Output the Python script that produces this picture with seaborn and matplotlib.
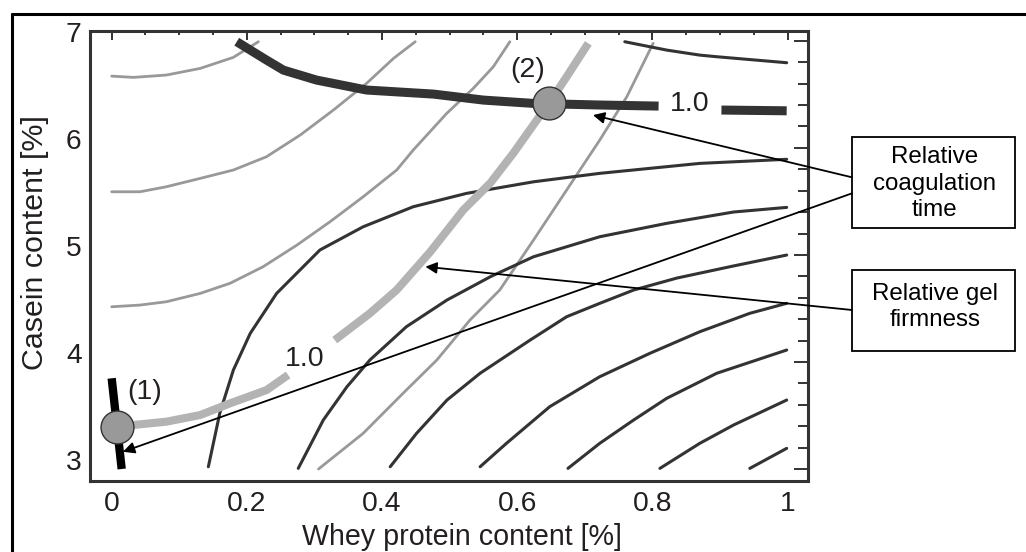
import numpy as np
import matplotlib
matplotlib.use("Agg")
import matplotlib.pyplot as plt
import seaborn as sns
from matplotlib.patches import Rectangle
from matplotlib.lines import Line2D
from matplotlib.ticker import MultipleLocator, FixedLocator, FixedFormatter
from matplotlib.transforms import ScaledTranslation

# ---------------- data: (whey protein %, casein %) ----------------
# relative gel firmness contours (thin light gray)
gel_c1_x = [0.0, 0.032, 0.081, 0.131, 0.180, 0.217]
gel_c1_y = [6.670, 6.658, 6.680, 6.742, 6.845, 6.991]
gel_c2_x = [0.0, 0.042, 0.081, 0.131, 0.180, 0.229, 0.279, 0.328, 0.377, 0.417, 0.449]
gel_c2_y = [5.590, 5.590, 5.637, 5.715, 5.793, 5.917, 6.120, 6.353, 6.602, 6.836, 6.991]
gel_c3_x = [0.0, 0.042, 0.081, 0.131, 0.175, 0.224, 0.274, 0.323, 0.372, 0.4216, 0.446, 0.4956, 0.535, 0.5645, 0.589]
gel_c3_y = [4.516, 4.532, 4.563, 4.641, 4.735, 4.890, 5.092, 5.310, 5.543, 5.793, 5.979, 6.322, 6.556, 6.757, 6.991]
gel_c4_x = [0.306, 0.372, 0.431, 0.481, 0.530, 0.574, 0.624, 0.673, 0.722, 0.762, 0.801]
gel_c4_y = [3.001, 3.334, 3.708, 4.019, 4.392, 4.672, 5.139, 5.606, 6.073, 6.477, 6.976]
# relative gel firmness = 1.0 (thick light gray, split around its label)
gel_one_a_x = [0.0074, 0.032, 0.081, 0.131, 0.175, 0.229, 0.261]
gel_one_a_y = [3.396, 3.412, 3.443, 3.505, 3.614, 3.738, 3.879]
gel_one_b_x = [0.330, 0.382, 0.4216, 0.471, 0.520, 0.560, 0.594, 0.629, 0.647, 0.673, 0.705]
gel_one_b_y = [4.205, 4.455, 4.673, 5.027, 5.419, 5.671, 5.949, 6.260, 6.415, 6.664, 6.976]

# relative coagulation time contours (thin dark)
coag_c0_x = [0.759, 0.821, 0.870, 0.895, 0.9985]
coag_c0_y = [6.991, 6.913, 6.866, 6.851, 6.795]
coag_c1_x = [0.143, 0.160, 0.180, 0.205, 0.244, 0.308, 0.372, 0.446, 0.525, 0.624, 0.722, 0.870, 0.9985]
coag_c1_y = [3.022, 3.524, 3.925, 4.268, 4.641, 5.046, 5.263, 5.450, 5.575, 5.683, 5.762, 5.855, 5.893]
coag_c2_x = [0.276, 0.313, 0.348, 0.382, 0.436, 0.496, 0.560, 0.624, 0.722, 0.821, 0.920, 0.9985]
coag_c2_y = [3.007, 3.458, 3.769, 4.019, 4.330, 4.579, 4.796, 4.983, 5.170, 5.295, 5.401, 5.444]
coag_c3_x = [0.412, 0.451, 0.496, 0.545, 0.619, 0.673, 0.722, 0.772, 0.836, 0.919, 0.9985]
coag_c3_y = [3.022, 3.334, 3.645, 3.895, 4.205, 4.423, 4.548, 4.672, 4.784, 4.896, 4.999]
coag_c4_x = [0.545, 0.584, 0.619, 0.648, 0.722, 0.796, 0.870, 0.944, 0.9985]
coag_c4_y = [3.022, 3.241, 3.428, 3.583, 3.863, 4.081, 4.283, 4.455, 4.548]
coag_c5_x = [0.675, 0.722, 0.772, 0.821, 0.895, 0.9985]
coag_c5_y = [3.007, 3.241, 3.458, 3.661, 3.895, 4.112]
coag_c6_x = [0.811, 0.870, 0.920, 0.9985]
coag_c6_y = [3.007, 3.241, 3.412, 3.645]
coag_c7_x = [0.944, 0.9985]
coag_c7_y = [3.007, 3.194]
# relative coagulation time = 1.0 (thick dark, split around its label)
coag_one_a_x = [0.185, 0.229, 0.254, 0.303, 0.377, 0.4265, 0.476, 0.550, 0.624, 0.722, 0.809]
coag_one_a_y = [6.991, 6.820, 6.726, 6.633, 6.540, 6.521, 6.502, 6.446, 6.415, 6.400, 6.390]
coag_one_b_x = [0.902, 0.9985]
coag_one_b_y = [6.353, 6.346]
# coagulation time = 1.0 at zero whey (short black segment)
coag_zero_x = [0.0, 0.0148]
coag_zero_y = [3.848, 3.001]

# marked points
point_x = [0.0074, 0.647]
point_y = [3.396, 6.415]
point_labels = ["(1)", "(2)"]
point_label_x = [0.049, 0.616]
point_label_y = [3.723, 6.726]
contour_label_text = ["1.0", "1.0"]
contour_label_x = [0.855, 0.286]
contour_label_y = [6.409, 4.028]

xtick_vals = [0, 0.2, 0.4, 0.6, 0.8, 1.0]
xtick_text = ["0", "0.2", "0.4", "0.6", "0.8", "1"]
ytick_vals = [3, 4, 5, 6, 7]
ytick_text = ["3", "4", "5", "6", "7"]

box_texts = ["Relative\ncoagulation\ntime", "Relative gel\nfirmness"]
# arrows: (tip x, tip y) in data, (tail x, tail y) in data
arrow_tips = [(0.712, 6.306), (0.0167, 3.162), (0.464, 4.890)]
arrow_tails = [(1.095, 5.725), (1.095, 5.575), (1.095, 4.486)]

# ---------------- styling ----------------
sns.set_style("white")
plt.rcParams["font.family"] = ["Liberation Sans", "DejaVu Sans"]
TXT = "#231f20"
LIGHT = "#999999"
PALE = "#b3b3b3"
DARK = "#333333"

fig = plt.figure(figsize=(10.26, 5.52), dpi=100)
ax = fig.add_axes([0.0877, 0.1292, 0.6998, 0.8146])


def draw(x, y, color, lw, z, cap="round"):
    sns.lineplot(x=x, y=y, ax=ax, color=color, linewidth=lw, sort=False,
                 estimator=None, zorder=z, solid_capstyle=cap,
                 solid_joinstyle="round", legend=False)


for gx, gy in [(gel_c1_x, gel_c1_y), (gel_c2_x, gel_c2_y),
               (gel_c3_x, gel_c3_y), (gel_c4_x, gel_c4_y)]:
    draw(gx, gy, LIGHT, 2.0, 2)

for cx, cy in [(coag_c0_x, coag_c0_y), (coag_c1_x, coag_c1_y), (coag_c2_x, coag_c2_y),
               (coag_c3_x, coag_c3_y), (coag_c4_x, coag_c4_y), (coag_c5_x, coag_c5_y),
               (coag_c6_x, coag_c6_y), (coag_c7_x, coag_c7_y)]:
    draw(cx, cy, DARK, 2.2, 3)

draw(gel_one_a_x, gel_one_a_y, PALE, 5.8, 4, cap="butt")
draw(gel_one_b_x, gel_one_b_y, PALE, 5.8, 4, cap="butt")
draw(coag_one_a_x, coag_one_a_y, DARK, 6.5, 5, cap="butt")
draw(coag_one_b_x, coag_one_b_y, DARK, 6.5, 5, cap="butt")
draw(coag_zero_x, coag_zero_y, "black", 6.0, 5, cap="butt")

sns.scatterplot(x=point_x, y=point_y, ax=ax, s=560, color="#999999",
                edgecolor="#333333", linewidth=1.0, zorder=6, legend=False)

for t, x, y in zip(point_labels, point_label_x, point_label_y):
    ax.text(x, y, t, fontsize=20.5, color=TXT, ha="center", va="center", zorder=7)
for t, x, y in zip(contour_label_text, contour_label_x, contour_label_y):
    ax.text(x, y, t, fontsize=20.5, color=TXT, ha="center", va="center", zorder=7)

for tip, tail in zip(arrow_tips, arrow_tails):
    ax.annotate("", xy=tip, xytext=tail, annotation_clip=False, zorder=8,
                arrowprops=dict(arrowstyle="-|>", color="black", lw=1.3,
                                mutation_scale=17, shrinkA=0, shrinkB=0))

# axes
ax.set_xlim(-0.0321, 1.0300)
ax.set_ylim(2.892, 7.091)
ax.xaxis.set_major_locator(FixedLocator(xtick_vals))
ax.xaxis.set_major_formatter(FixedFormatter(xtick_text))
ax.xaxis.set_minor_locator(MultipleLocator(0.05))
ax.yaxis.set_major_locator(FixedLocator(ytick_vals))
ax.yaxis.set_major_formatter(FixedFormatter(ytick_text))
ax.yaxis.set_minor_locator(MultipleLocator(0.2))
ax.tick_params(which="both", direction="in", top=True, right=True,
               width=1.4, color=DARK, labelcolor=TXT, labelsize=20.3)
ax.tick_params(axis="x", which="major", length=6.5, pad=7.5)
ax.tick_params(axis="x", which="minor", length=3.0)
ax.tick_params(axis="y", which="major", length=10, pad=6)
ax.tick_params(axis="y", which="minor", length=7.2)
for sp in ax.spines.values():
    sp.set_color(DARK)
    sp.set_linewidth(2.2)

shift = ScaledTranslation(0, 9 / 100, fig.dpi_scale_trans)
for lab in ax.get_yticklabels():
    lab.set_transform(lab.get_transform() + shift)

ax.set_xlabel("Whey protein content [%]", fontsize=20.6, color=TXT)
ax.xaxis.set_label_coords(0.5177, -0.094)
ax.set_ylabel("Casein content [%]", fontsize=21.9, color=TXT)
ax.yaxis.set_label_coords(-0.0571, 0.5297)

# boxes on the right
fig.add_artist(Rectangle((0.8307, 0.5864), 0.1586, 0.1650, transform=fig.transFigure,
                         fill=False, lw=1.3, ec="black"))
fig.add_artist(Rectangle((0.8307, 0.3647), 0.1586, 0.1461, transform=fig.transFigure,
                         fill=False, lw=1.3, ec="black"))
fig.text(0.911, 0.6672, box_texts[0], ha="center", va="center", fontsize=17.4,
         linespacing=1.25, multialignment="center", color="black")
fig.text(0.911, 0.4438, box_texts[1], ha="center", va="center", fontsize=17.4,
         linespacing=1.25, multialignment="center", color="black")

# outer L-shaped frame
fig.add_artist(Line2D([12 / 1026, 1.0], [1 - 14 / 552, 1 - 14 / 552],
                      transform=fig.transFigure, color="black", lw=2.2))
fig.add_artist(Line2D([12 / 1026, 12 / 1026], [0.0, 1 - 14 / 552],
                      transform=fig.transFigure, color="black", lw=2.2))

fig.savefig("out.png", dpi=100, facecolor="white")
